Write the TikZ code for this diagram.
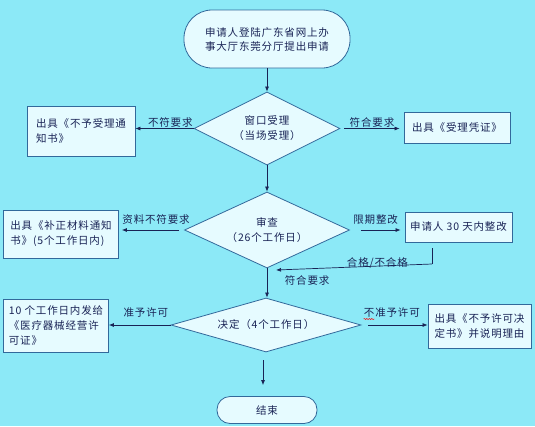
\documentclass[tikz,border=0pt]{standalone}
\usepackage{fontspec}
\setmainfont{Noto Sans CJK SC}[LetterSpace=8]
\usetikzlibrary{arrows.meta,shapes.geometric,decorations.pathmorphing}
\definecolor{bgcyan}{RGB}{140,233,247}
\definecolor{boxfill}{RGB}{230,251,255}
\definecolor{boxline}{RGB}{50,105,155}
\definecolor{inkblue}{RGB}{25,35,85}

\begin{document}
\begin{tikzpicture}[x=1pt, y=-1pt, every node/.style={font=\fontsize{10.5}{15}\selectfont, text=inkblue}, >={Latex[length=5pt,width=4pt]},
	proc/.style={draw=boxline, fill=boxfill, line width=0.8pt, inner sep=2pt, align=left},
	test/.style={diamond, draw=boxline, fill=boxfill, line width=0.8pt, inner sep=0pt, align=center, aspect=2},
	term/.style={draw=boxline, fill=boxfill, line width=0.8pt, rounded corners=#1, align=left},
	term/.default=13pt,
	flow/.style={->, inkblue, line width=0.7pt},
	lbl/.style={inner sep=0.5pt}]
	\fill[bgcyan] (0,0) rectangle (535,426);
	\useasboundingbox (0,0) rectangle (535,426);
	% spine
	\node[term=28pt, minimum width=166, minimum height=58, font=\fontsize{10.5}{14}\selectfont] (start) at (267,39) {申请人登陆广东省网上办\\事大厅东莞分厅提出申请};
	\node[test, minimum width=146, minimum height=73] (accept) at (267,128.5) {窗口受理\\（当场受理）};
	\node[test, minimum width=165, minimum height=76] (review) at (267,230) {审查\\（26个工作日）};
	\node[test, aspect=3, minimum width=190, minimum height=54] (decide) at (266,325) {决定（4个工作日）};
	\node[term, minimum width=100, minimum height=27, align=center] (finish) at (267,410) {结束};
	% side boxes
	\node[proc, minimum width=108, minimum height=50] (reject) at (81,131) {出具《不予受理通\\知书》};
	\node[proc, minimum width=106, minimum height=31] (receipt) at (457,128) {出具《受理凭证》};
	\node[proc, minimum width=115, minimum height=48] (supply) at (61,234) {出具《补正材料通知\\书》(5个工作日内)};
	\node[proc, minimum width=107, minimum height=30] (rectify) at (458.5,227) {申请人 30 天内整改};
	\node[proc, minimum width=105, minimum height=53] (grant) at (56,325.5) {10 个工作日内发给\\《医疗器械经营许\\可证》};
	\node[proc, minimum width=103, minimum height=44] (refuse) at (479.5,326) {出具《不予许可决\\定书》并说明理由};

	\draw[flow] (start.south) -- (start.south |- accept.north);
	\draw[flow] (accept.south) -- (review.north);
	\draw[flow] (review.south) -- node[pos=0.42, right=17pt, lbl] {符合要求} (review.south |- decide.north);
	\draw[flow, shorten <=8pt, shorten >=11pt] ([xshift=-3pt]decide.south) -- ([xshift=-3pt]decide.south |- finish.north);

	\draw[flow] (accept.west) -- node[pos=0.4, above, lbl] {不符要求} (accept.west -| reject.east);
	\draw[flow, shorten <=4pt, shorten >=4pt] (accept.east) -- node[pos=0.5, above, lbl] {符合要求} (accept.east -| receipt.west);
	\draw[flow, shorten <=5pt, shorten >=3pt] (review.west) -- node[pos=0.43, above=5pt, lbl] {资料不符要求} (review.west -| supply.east);
	\draw[flow, shorten <=11pt, shorten >=4pt] (review.east) -- node[pos=0.47, above=5pt, lbl] {限期整改} (review.east -| rectify.west);
	\draw[flow] (decide.west) -- node[pos=0.4, above=7pt, lbl] {准予许可} (decide.west -| grant.east);
	\draw[flow, shorten <=7pt] (decide.east) -- node[pos=0.46, above=7pt, lbl] (nolbl) {不准予许可} (decide.east -| refuse.west);
	\draw[red, line width=0.4pt, decorate, decoration={snake, amplitude=0.6pt, segment length=2.5pt}] ([xshift=0.5pt,yshift=-1pt]nolbl.south west) -- ++(11,0);

	% feedback from rectification
	\coordinate (fbbend) at (432,264);
	\coordinate (fbend) at (276,270);
	\draw[inkblue, line width=0.7pt, shorten <=6pt] (rectify.south -| fbbend) -- (fbbend);
	\draw[flow] (fbbend) -- node[pos=0.35, yshift=3pt, lbl] {合格/不合格} (fbend);
\end{tikzpicture}
\end{document}
